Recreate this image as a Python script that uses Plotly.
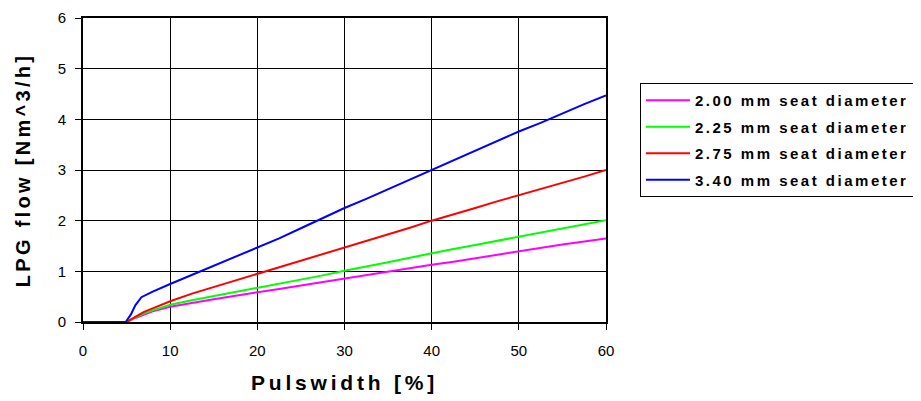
import plotly.graph_objects as go

# Pulswidth [%]
x_common = [0, 5.0, 6, 7, 8, 10, 12.5, 15, 17.5, 20, 22.5, 25, 27.5, 30, 32.5, 35,
            37.5, 40, 42.5, 45, 47.5, 50, 52.5, 55, 57.5, 60]
x_blue = [0, 4.9, 5.5, 6.0, 6.7, 8, 10, 12.5, 15, 17.5, 20, 22.5, 25, 27.5, 30, 32.5,
          35, 37.5, 40, 42.5, 45, 47.5, 50, 52.5, 55, 57.5, 60]

flow_200 = [0, 0, 0.08, 0.15, 0.21, 0.30, 0.38, 0.45, 0.52, 0.58, 0.65, 0.72, 0.79, 0.86,
            0.93, 0.99, 1.06, 1.13, 1.19, 1.26, 1.33, 1.40, 1.46, 1.53, 1.59, 1.65]
flow_225 = [0, 0, 0.09, 0.17, 0.23, 0.34, 0.43, 0.51, 0.59, 0.67, 0.75, 0.84, 0.92, 1.01,
            1.09, 1.18, 1.27, 1.36, 1.44, 1.52, 1.60, 1.69, 1.77, 1.85, 1.93, 2.01]
flow_275 = [0, 0, 0.10, 0.20, 0.27, 0.41, 0.56, 0.69, 0.82, 0.95, 1.07, 1.20, 1.34, 1.47,
            1.60, 1.73, 1.86, 2.00, 2.12, 2.25, 2.38, 2.50, 2.62, 2.75, 2.87, 3.00]
flow_340 = [0, 0, 0.15, 0.33, 0.49, 0.60, 0.75, 0.93, 1.11, 1.28, 1.47, 1.65, 1.85, 2.05,
            2.25, 2.43, 2.62, 2.80, 3.00, 3.18, 3.37, 3.56, 3.76, 3.93, 4.12, 4.30, 4.47]

series_names = ["2.00 mm seat diameter", "2.25 mm seat diameter",
                "2.75 mm seat diameter", "3.40 mm seat diameter"]
series_colors = ["#FF00FF", "#00FF00", "#FF0000", "#0000FF"]

x_ticks = [0, 10, 20, 30, 40, 50, 60]
y_ticks = [0, 1, 2, 3, 4, 5, 6]

FONT = "Liberation Sans, Arial, sans-serif"

fig = go.Figure()
series = [(x_common, flow_200), (x_common, flow_225), (x_common, flow_275), (x_blue, flow_340)]
for i, ((xs, ys), name, col) in enumerate(zip(series, series_names, series_colors)):
    fig.add_trace(go.Scatter(
        x=xs, y=ys, mode="lines", name=f'<span style="letter-spacing:2.5px">{name}</span>',
        line=dict(color=col, width=2), legendgroup=f"g{i}"))

# page body has an 8px margin, so the figure is 8px smaller and margins shifted
fig.update_layout(
    width=913, height=393,
    margin=dict(l=75, r=315, t=10, b=79, autoexpand=False),
    paper_bgcolor="white", plot_bgcolor="white",
    font=dict(family=FONT, color="black"),
    showlegend=True,
    legend=dict(
        xref="container", yref="container",
        x=0.6922, y=0.8092, xanchor="left", yanchor="top",
        bordercolor="black", borderwidth=1, bgcolor="white",
        font=dict(family=FONT, size=15, color="black", weight="bold"),
        tracegroupgap=4, itemwidth=44,
    ),
    xaxis=dict(
        range=[0, 60], tickvals=x_ticks, ticks="outside", ticklen=6, tickcolor="black",
        tickfont=dict(size=15), ticklabelstandoff=8, automargin=False,
        showline=True, linecolor="black", linewidth=2, mirror=True,
        showgrid=True, gridcolor="black", gridwidth=1, zeroline=False,
        title=dict(text='<span style="letter-spacing:3.8px">Pulswidth [%]</span>',
                   font=dict(size=21, weight="bold"), standoff=17),
    ),
    yaxis=dict(
        range=[0, 6], tickvals=y_ticks, ticks="outside", ticklen=6, tickcolor="black",
        tickfont=dict(size=15), ticklabelstandoff=6, automargin=False,
        showline=True, linecolor="black", linewidth=2, mirror=True,
        showgrid=True, gridcolor="black", gridwidth=1, zeroline=False,
        title=dict(text='<span style="letter-spacing:3.3px">LPG flow [Nm^3/h]</span>',
                   font=dict(size=20, weight="bold"), standoff=22),
    ),
)

fig.write_html("out.html")
